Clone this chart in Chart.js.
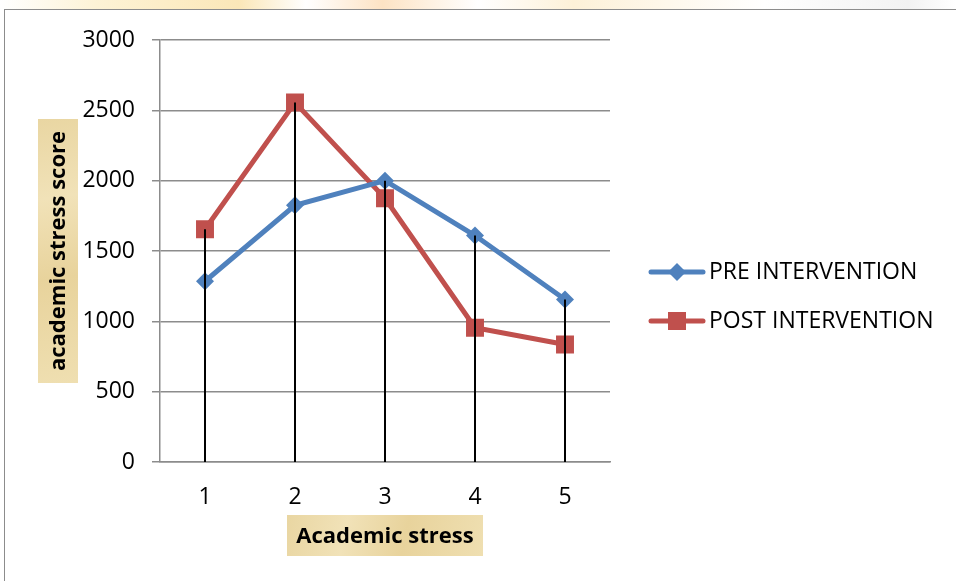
<!DOCTYPE html>
<html>
<head>
<meta charset="utf-8">
<script src="https://cdn.jsdelivr.net/npm/chart.js@4.4.1/dist/chart.umd.min.js"></script>
<style>
    html, body { margin: 0; padding: 0; background: #fff; }
    #wrap { position: relative; width: 956px; height: 581px; overflow: hidden; }
    #marca {
        position: absolute; left: 0; top: 0; width: 956px; height: 9px;
        background: linear-gradient(90deg, #fff 0%, #fdf3d6 10%, #fbe7b8 25%, #fff 32%, #fde3c4 40%, #fff 50%, #fdf1d8 60%, #fff 80%, #f2f2f2 95%, #fff 100%);
    }
    #moldura {
        position: absolute; left: 4px; top: 9px; width: 1000px; height: 600px;
        border: 1.5px solid #8c8c8c;
    }
    canvas { position: absolute; left: 0; top: 0; }
</style>
</head>
<body>
<div id="wrap">
    <div id="marca"></div>
    <div id="moldura"></div>
    <canvas id="grafico" width="956" height="581"></canvas>
</div>
<script>
const CATEGORIAS = ['1', '2', '3', '4', '5'];
const PRE_INTERVENCAO = [1285, 1825, 2000, 1610, 1155];
const POS_INTERVENCAO = [1655, 2555, 1875, 955, 835];
const Y_MIN = 0;
const Y_MAX = 3000;
const Y_PASSO = 500;

const ROTULO_SERIE_PRE = 'PRE INTERVENTION';
const ROTULO_SERIE_POS = 'POST INTERVENTION';
const TITULO_X = 'Academic stress';
const TITULO_Y = 'academic stress score';

const AZUL = '#4F81BD';
const VERMELHO = '#C0504D';
const FONTE = '"Open Sans", sans-serif';

function fundoTitulo(ctx, x, y, w, h) {
    const grad = ctx.createLinearGradient(x, y, x + w, y + h);
    grad.addColorStop(0, '#e9d6a2');
    grad.addColorStop(0.3, '#f1e2b8');
    grad.addColorStop(0.6, '#e8d39c');
    grad.addColorStop(1, '#efdfb1');
    ctx.fillStyle = grad;
    ctx.fillRect(x, y, w, h);
}

// linhas pretas de cada categoria ate o maior valor
const linhasQueda = {
    id: 'linhasQueda',
    afterDatasetsDraw(chart) {
        const { ctx, scales: { x, y } } = chart;
        ctx.save();
        ctx.strokeStyle = '#000';
        ctx.lineWidth = 2;
        CATEGORIAS.forEach((c, i) => {
            const topo = Math.max(PRE_INTERVENCAO[i], POS_INTERVENCAO[i]);
            const px = Math.round(x.getPixelForValue(i));
            ctx.beginPath();
            ctx.moveTo(px, y.getPixelForValue(Y_MIN));
            ctx.lineTo(px, y.getPixelForValue(topo));
            ctx.stroke();
        });
        ctx.restore();
    }
};

const titulosELegenda = {
    id: 'titulosELegenda',
    afterDraw(chart) {
        const { ctx, chartArea } = chart;
        const cx = (chartArea.left + chartArea.right) / 2;
        const cy = (chartArea.top + chartArea.bottom) / 2;
        ctx.save();

        // titulo eixo Y
        fundoTitulo(ctx, 38, cy - 132, 40, 264);
        ctx.translate(58, cy);
        ctx.rotate(-Math.PI / 2);
        ctx.fillStyle = '#000';
        ctx.font = 'bold 22px ' + FONTE;
        ctx.textAlign = 'center';
        ctx.textBaseline = 'middle';
        ctx.fillText(TITULO_Y, 0, 1);
        ctx.setTransform(1, 0, 0, 1, 0, 0);

        // titulo eixo X
        fundoTitulo(ctx, cx - 98, 515, 196, 41);
        ctx.fillStyle = '#000';
        ctx.font = 'bold 22px ' + FONTE;
        ctx.textAlign = 'center';
        ctx.textBaseline = 'middle';
        ctx.fillText(TITULO_X, cx, 537);

        // legenda
        const itens = [
            { texto: ROTULO_SERIE_PRE, cor: AZUL, forma: 'losango', y: 272 },
            { texto: ROTULO_SERIE_POS, cor: VERMELHO, forma: 'quadrado', y: 321 }
        ];
        itens.forEach(item => {
            ctx.strokeStyle = item.cor;
            ctx.fillStyle = item.cor;
            ctx.lineWidth = 5;
            ctx.lineCap = 'round';
            ctx.beginPath();
            ctx.moveTo(651, item.y);
            ctx.lineTo(703, item.y);
            ctx.stroke();
            ctx.beginPath();
            if (item.forma === 'losango') {
                ctx.moveTo(677, item.y - 9);
                ctx.lineTo(686, item.y);
                ctx.lineTo(677, item.y + 9);
                ctx.lineTo(668, item.y);
                ctx.closePath();
            } else {
                ctx.rect(668, item.y - 9, 18, 18);
            }
            ctx.fill();
            ctx.fillStyle = '#000';
            ctx.font = '23px ' + FONTE;
            ctx.textAlign = 'left';
            ctx.textBaseline = 'middle';
            ctx.fillText(item.texto, 709, item.y);
        });
        ctx.restore();
    }
};

const ctx = document.getElementById('grafico').getContext('2d');
new Chart(ctx, {
    type: 'line',
    data: {
        labels: CATEGORIAS,
        datasets: [{
            label: ROTULO_SERIE_PRE,
            data: PRE_INTERVENCAO,
            borderColor: AZUL,
            backgroundColor: AZUL,
            borderWidth: 5,
            pointStyle: 'rectRot',
            pointRadius: 9,
            pointHoverRadius: 9,
            pointBorderWidth: 0,
            tension: 0
        }, {
            label: ROTULO_SERIE_POS,
            data: POS_INTERVENCAO,
            borderColor: VERMELHO,
            backgroundColor: VERMELHO,
            borderWidth: 5,
            pointStyle: 'rect',
            pointRadius: 12.7,
            pointHoverRadius: 12.7,
            pointBorderWidth: 0,
            tension: 0
        }]
    },
    options: {
        responsive: false,
        animation: false,
        events: [],
        layout: { padding: { left: 0, top: 40, right: 346, bottom: 0 } },
        plugins: {
            legend: { display: false },
            tooltip: { enabled: false }
        },
        scales: {
            x: {
                offset: true,
                afterFit(scale) { scale.height = 119; },
                grid: { display: false, drawTicks: false },
                border: { display: true, color: '#8c8c8c', width: 1.5 },
                ticks: { color: '#000', font: { family: FONTE, size: 23 }, padding: 22 }
            },
            y: {
                min: Y_MIN,
                max: Y_MAX,
                afterFit(scale) { scale.width = 160; },
                grid: { color: '#8c8c8c', lineWidth: 1.5, tickLength: 8 },
                border: { display: true, color: '#8c8c8c', width: 1.5 },
                ticks: {
                    stepSize: Y_PASSO,
                    color: '#000',
                    font: { family: FONTE, size: 23 },
                    padding: 17,
                    callback: v => String(v)
                }
            }
        }
    },
    plugins: [linhasQueda, titulosELegenda]
});
</script>
</body>
</html>
